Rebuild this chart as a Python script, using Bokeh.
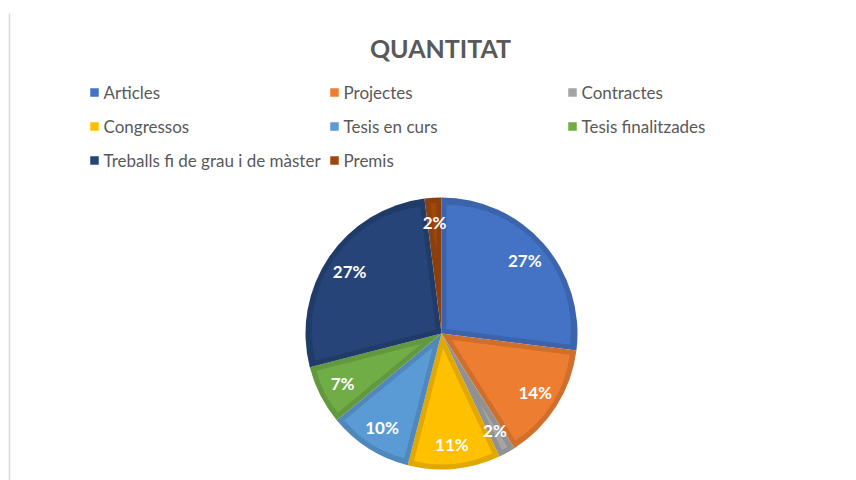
import math
from bokeh.plotting import figure
from bokeh.models import Range1d
from bokeh.core.properties import value
from bokeh.embed import file_html
from bokeh.resources import INLINE

title = "QUANTITAT"
categories = ["Articles", "Projectes", "Contractes", "Congressos", "Tesis en curs",
              "Tesis finalitzades", "Treballs fi de grau i de màster", "Premis"]
values = [27, 14, 2, 11, 10, 7, 27, 2]
colors = ["#4472C4", "#ED7D31", "#A5A5A5", "#FFC000", "#5B9BD5", "#70AD47", "#264478", "#9E480E"]

W, H = 856, 480
p = figure(width=W, height=H, output_backend="svg", toolbar_location=None,
           x_range=Range1d(0, W), y_range=Range1d(0, H), min_border=0,
           outline_line_color=None, background_fill_color="white")
p.axis.visible = False
p.grid.visible = False


def darker(c, f=0.88):
    r, g, b = int(c[1:3], 16), int(c[3:5], 16), int(c[5:7], 16)
    return "#%02x%02x%02x" % (int(r * f), int(g * f), int(b * f))


# left border line
p.segment(x0=[9], y0=[0], x1=[9], y1=[H - 13], line_color="#d9d9d9", line_width=1.5)

# title
p.text(x=[440], y=[H - 47], text=[title], text_align="center", text_baseline="middle",
       text_font=value("Lato"), text_font_style="bold", text_font_size="25px", text_color="#595959")

# legend
col_x = [90, 330, 568]
row_y = [H - 92, H - 126, H - 160]
lx, ly, lt, lc = [], [], [], []
for i, (cat, col) in enumerate(zip(categories, colors)):
    lx.append(col_x[i % 3])
    ly.append(row_y[i // 3])
    lt.append(cat)
    lc.append(col)
p.rect(x=[x + 4 for x in lx], y=ly, width=8.5, height=8.5, fill_color=lc, line_color=None)
p.text(x=[x + 13 for x in lx], y=[y + 0.5 for y in ly], text=lt, text_baseline="middle",
       text_font=value("Lato"), text_font_size="17px", text_color="#595959")

# pie
cx, cy, R = 441, H - 333, 136
d = 5
total = float(sum(values))
starts, ends = [], []
cum = 0.0
for v in values:
    a0 = math.pi / 2 - cum / total * 2 * math.pi
    cum += v
    a1 = math.pi / 2 - cum / total * 2 * math.pi
    starts.append(a0)
    ends.append(a1)

p.wedge(x=cx, y=cy, radius=R, start_angle=starts, end_angle=ends, direction="clock",
        fill_color=[darker(c) for c in colors], line_color=None)

ix, iy, ir, is_, ie, ic = [], [], [], [], [], []
for a0, a1, c in zip(starts, ends, colors):
    half = (a0 - a1) / 2
    mid = (a0 + a1) / 2
    shift = d / math.sin(half) if half < math.pi / 2 else d
    rr = R - d - shift
    if rr <= 0:
        continue
    ix.append(cx + shift * math.cos(mid))
    iy.append(cy + shift * math.sin(mid))
    ir.append(rr)
    is_.append(a0)
    ie.append(a1)
    ic.append(c)
p.wedge(x=ix, y=iy, radius=ir, start_angle=is_, end_angle=ie, direction="clock",
        fill_color=ic, line_color=None)

# labels
label_r = 111
tx, ty, tt = [], [], []
for a0, a1, v in zip(starts, ends, values):
    mid = (a0 + a1) / 2
    tx.append(cx + label_r * math.cos(mid))
    ty.append(cy + label_r * math.sin(mid))
    tt.append("%d%%" % round(v / total * 100))
p.text(x=tx, y=ty, text=tt, text_align="center", text_baseline="middle",
       text_font=value("Lato"), text_font_style="bold", text_font_size="17px", text_color="white")

open("out.html", "w").write(file_html(p, INLINE))
